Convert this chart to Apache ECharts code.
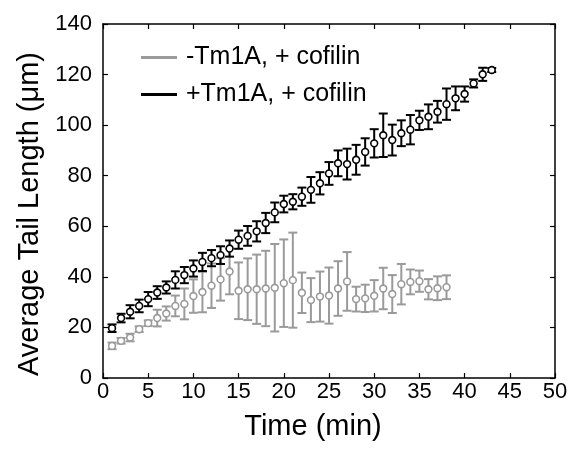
<!DOCTYPE html>
<html>
<head>
<meta charset="utf-8">
<script src="https://cdn.jsdelivr.net/npm/echarts@6/dist/echarts.min.js"></script>
<style>
  html, body { margin: 0; padding: 0; background: #fff; }
  #chart { width: 577px; height: 450px; }
</style>
</head>
<body>
<div id="chart"></div>
<script>
// data
var xTicks = [0, 5, 10, 15, 20, 25, 30, 35, 40, 45, 50];
var yTicks = [0, 20, 40, 60, 80, 100, 120, 140];

// -Tm1A, + cofilin  (gray)
var timeMinus = [1, 2, 3, 4, 5, 6, 7, 8, 9, 10, 11, 12, 13, 14, 15, 16, 17, 18, 19,
  20, 21, 22, 23, 24, 25, 26, 27, 28, 29, 30, 31, 32, 33, 34, 35, 36, 37, 38];
var meanMinus = [12.7, 14.7, 16.0, 19.3, 21.7, 23.7, 25.5, 28.5, 29.3, 32.4, 34.0, 36.5, 39.0, 42.1,
  34.5, 35.1, 35.1, 35.4, 35.7, 37.5, 38.7, 33.7, 30.8, 32.2, 32.6, 35.4, 38.2, 31.2, 31.5,
  32.5, 35.4, 33.2, 37.1, 38.0, 38.3, 35.1, 35.5, 35.9];
var errMinus = [1.3, 1.1, 1.5, 1.1, 1.1, 3.3, 2.8, 4.1, 6.1, 6.6, 8.0, 8.8, 8.4, 9.0,
  11.2, 12.2, 13.7, 14.9, 17.3, 17.3, 18.8, 8.0, 8.7, 9.9, 11.1, 10.8, 11.6, 4.9, 5.4,
  6.2, 8.2, 7.5, 8.0, 4.9, 4.2, 4.0, 4.7, 4.7];

// +Tm1A, + cofilin  (black)
var timePlus = [1, 2, 3, 4, 5, 6, 7, 8, 9, 10, 11, 12, 13, 14, 15, 16, 17, 18, 19, 20, 21,
  22, 23, 24, 25, 26, 27, 28, 29, 30, 31, 32, 33, 34, 35, 36, 37, 38, 39, 40, 41, 42, 43];
var meanPlus = [19.7, 23.7, 26.2, 28.5, 31.2, 33.8, 35.8, 38.8, 40.7, 43.3, 45.9, 47.4, 48.6, 51.2,
  54.7, 56.2, 58.0, 61.3, 65.5, 68.8, 69.7, 71.7, 74.4, 77.0, 80.9, 84.9, 84.6, 86.3, 89.4,
  92.8, 96.0, 94.1, 96.8, 98.2, 101.9, 103.3, 105.3, 108.3, 110.6, 112.3, 116.5, 120.1, 121.8];
var errPlus = [1.5, 1.7, 2.6, 2.5, 2.8, 2.5, 2.4, 3.4, 3.2, 3.2, 3.6, 3.2, 3.5, 3.2,
  3.6, 3.9, 4.0, 4.0, 3.9, 3.3, 3.0, 3.6, 5.1, 4.4, 4.5, 5.1, 6.1, 5.9, 5.4,
  5.6, 8.6, 6.1, 5.1, 5.8, 3.8, 4.9, 4.3, 6.2, 4.7, 3.0, 1.6, 2.6, 0.8];

var names = ['-Tm1A, + cofilin', '+Tm1A, + cofilin'];
var colors = ['#9a9a9a', '#000000'];

function rows(t, m, e) {
  var out = [];
  for (var i = 0; i < t.length; i++) out.push([t[i], m[i], e[i]]);
  return out;
}

// error bar + open circle, placed with the axis scales
function errorItem(color) {
  return function (params, api) {
    var x = api.value(0), y = api.value(1), e = api.value(2);
    var p = api.coord([x, y]);
    var hi = api.coord([x, y + e]);
    var lo = api.coord([x, y - e]);
    var cap = 4.5;
    var st = { stroke: color, lineWidth: 2 };
    return {
      type: 'group',
      children: [
        { type: 'line', shape: { x1: p[0], y1: hi[1], x2: p[0], y2: lo[1] }, style: st },
        { type: 'line', shape: { x1: p[0] - cap, y1: hi[1], x2: p[0] + cap, y2: hi[1] }, style: st },
        { type: 'line', shape: { x1: p[0] - cap, y1: lo[1], x2: p[0] + cap, y2: lo[1] }, style: st },
        { type: 'circle', shape: { cx: p[0], cy: p[1], r: 3.4 },
          style: { fill: '#fff', stroke: color, lineWidth: 1.6 } }
      ]
    };
  };
}

var font = 'Liberation Sans, Arial, Helvetica, sans-serif';
var chart = echarts.init(document.getElementById('chart'), null, { renderer: 'canvas' });

var axisCommon = {
  type: 'value',
  splitLine: { show: false },
  axisLine: { show: true, onZero: false, lineStyle: { color: '#000', width: 1.5 } },
  axisTick: { show: true, inside: true, length: 5, lineStyle: { color: '#000', width: 1.2 } }
};

chart.setOption({
  animation: false,
  backgroundColor: '#fff',
  textStyle: { fontFamily: font },
  grid: { left: 103, right: 22, top: 24, bottom: 72, show: false },
  legend: {
    left: 136, top: 40, orient: 'vertical', itemGap: 12,
    itemWidth: 36, itemHeight: 3, icon: 'rect',
    textStyle: { fontSize: 25, color: '#000', fontFamily: font, padding: [0, 0, 0, 4] },
    data: [
      { name: names[0], itemStyle: { color: colors[0] } },
      { name: names[1], itemStyle: { color: colors[1] } }
    ]
  },
  xAxis: [
    Object.assign({}, axisCommon, {
      position: 'bottom', min: 0, max: 50, interval: 5,
      name: 'Time (min)', nameLocation: 'middle', nameGap: 34,
      nameTextStyle: { fontSize: 29, color: '#000', fontFamily: font, padding: [0, 32, 0, 0] },
      axisLabel: { fontSize: 22, color: '#000', margin: 3,
        formatter: function (v) { return xTicks.indexOf(v) >= 0 ? String(v) : ''; } }
    }),
    Object.assign({}, axisCommon, {
      position: 'top', min: 0, max: 50, interval: 5, axisLabel: { show: false }
    })
  ],
  yAxis: [
    Object.assign({}, axisCommon, {
      position: 'left', min: 0, max: 140, interval: 20,
      name: 'Average Tail Length (\u03bcm)', nameLocation: 'middle', nameGap: 57,
      nameTextStyle: { fontSize: 29, color: '#000', fontFamily: font, padding: [0, 26, 0, 0] },
      axisLabel: { fontSize: 22, color: '#000', margin: 11,
        formatter: function (v) { return yTicks.indexOf(v) >= 0 ? String(v) : ''; } }
    }),
    Object.assign({}, axisCommon, {
      position: 'right', min: 0, max: 140, interval: 20, axisLabel: { show: false }
    })
  ],
  series: [
    {
      name: names[0], type: 'custom', xAxisIndex: 0, yAxisIndex: 0,
      itemStyle: { color: colors[0] },
      renderItem: errorItem(colors[0]),
      encode: { x: 0, y: 1 },
      data: rows(timeMinus, meanMinus, errMinus)
    },
    {
      name: names[1], type: 'custom', xAxisIndex: 0, yAxisIndex: 0,
      itemStyle: { color: colors[1] },
      renderItem: errorItem(colors[1]),
      encode: { x: 0, y: 1 },
      data: rows(timePlus, meanPlus, errPlus)
    }
  ]
});
</script>
</body>
</html>
